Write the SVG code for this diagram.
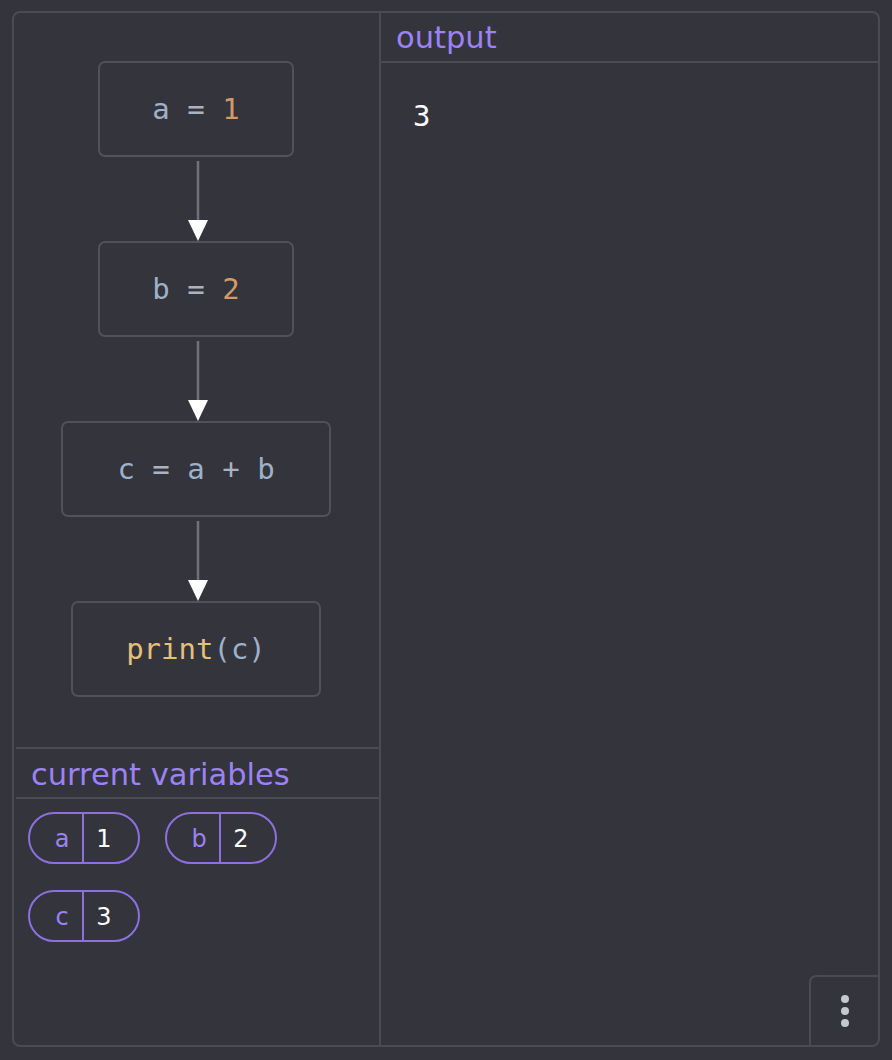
<svg xmlns="http://www.w3.org/2000/svg" width="892" height="1060" viewBox="0 0 892 1060">
<defs>
<style>
.frame{fill:none;stroke:#4b4c53;stroke-width:2}
.node{fill:#33343c;stroke:#505159;stroke-width:2}
.code{font-family:"DejaVu Sans Mono","Liberation Mono",monospace;font-size:29px}
.id{fill:#9fb0c9}
.op{fill:#abb2bf}
.num{fill:#d19a66}
.fn{fill:#e5c07b}
.head{font-family:"DejaVu Sans","Noto Sans",sans-serif;font-size:30.5px;fill:#9c82f2}
.edge{stroke:#717278;stroke-width:2.5;fill:none}
.pill{fill:none;stroke:#8e6fe0;stroke-width:2}
.pk{font-family:"DejaVu Sans","Noto Sans",sans-serif;font-size:24px;fill:#9c82f2}
.pv{font-family:"DejaVu Sans","Noto Sans",sans-serif;font-size:24px;fill:#ffffff}
</style>
</defs>
<rect width="892" height="1060" fill="#33343c"/>
<g id="panel">
<rect class="frame" x="13" y="12" width="866" height="1034" rx="7"/>
<line class="frame" x1="380" y1="12" x2="380" y2="1046"/>
<line class="frame" x1="380" y1="62" x2="879" y2="62"/>
<line class="frame" x1="16" y1="748" x2="380" y2="748"/>
<line class="frame" x1="16" y1="798" x2="380" y2="798"/>
</g>
<g id="connectors">
<line class="edge" x1="198" y1="161" x2="198" y2="220"/>
<path d="M188,220 L208,220 L198,241 Z" fill="#ffffff"/>
<line class="edge" x1="198" y1="341" x2="198" y2="400"/>
<path d="M188,400 L208,400 L198,421 Z" fill="#ffffff"/>
<line class="edge" x1="198" y1="521" x2="198" y2="580"/>
<path d="M188,580 L208,580 L198,601 Z" fill="#ffffff"/>
</g>
<g id="n1">
<rect class="node" x="99" y="62" width="194" height="94" rx="6"/>
<text class="code" x="196" y="119" text-anchor="middle" xml:space="preserve"><tspan class="id">a</tspan><tspan class="op"> = </tspan><tspan class="num">1</tspan></text>
</g>
<g id="n2">
<rect class="node" x="99" y="242" width="194" height="94" rx="6"/>
<text class="code" x="196" y="299" text-anchor="middle" xml:space="preserve"><tspan class="id">b</tspan><tspan class="op"> = </tspan><tspan class="num">2</tspan></text>
</g>
<g id="n3">
<rect class="node" x="62" y="422" width="268" height="94" rx="6"/>
<text class="code" x="196" y="479" text-anchor="middle" xml:space="preserve"><tspan class="id">c</tspan><tspan class="op"> = </tspan><tspan class="id">a</tspan><tspan class="op"> + </tspan><tspan class="id">b</tspan></text>
</g>
<g id="n4">
<rect class="node" x="72" y="602" width="248" height="94" rx="6"/>
<text class="code" x="196" y="659" text-anchor="middle"><tspan class="fn">print</tspan><tspan class="id">(c)</tspan></text>
</g>
<g id="output">
<text class="head" x="396" y="48">output</text>
<text class="code" x="413" y="126" fill="#ffffff" font-size="28">3</text>
</g>
<g id="variables">
<text class="head" x="31" y="785">current variables</text>
<g id="var-a">
<rect class="pill" x="29" y="813" width="110" height="50" rx="25"/>
<line class="pill" x1="83" y1="813" x2="83" y2="863"/>
<text class="pk" x="62" y="847" text-anchor="middle">a</text>
<text class="pv" x="104" y="847" text-anchor="middle">1</text>
</g>
<g id="var-b">
<rect class="pill" x="166" y="813" width="110" height="50" rx="25"/>
<line class="pill" x1="220" y1="813" x2="220" y2="863"/>
<text class="pk" x="199" y="847" text-anchor="middle">b</text>
<text class="pv" x="241" y="847" text-anchor="middle">2</text>
</g>
<g id="var-c">
<rect class="pill" x="29" y="891" width="110" height="50" rx="25"/>
<line class="pill" x1="83" y1="891" x2="83" y2="941"/>
<text class="pk" x="62" y="925" text-anchor="middle">c</text>
<text class="pv" x="104" y="925" text-anchor="middle">3</text>
</g>
</g>
<g id="menu">
<path class="frame" d="M810,1046 L810,983 Q810,976 817,976 L879,976"/>
<circle cx="845" cy="999" r="4" fill="#c4c8d0"/>
<circle cx="845" cy="1011" r="4" fill="#c4c8d0"/>
<circle cx="845" cy="1023" r="4" fill="#c4c8d0"/>
</g>
</svg>
